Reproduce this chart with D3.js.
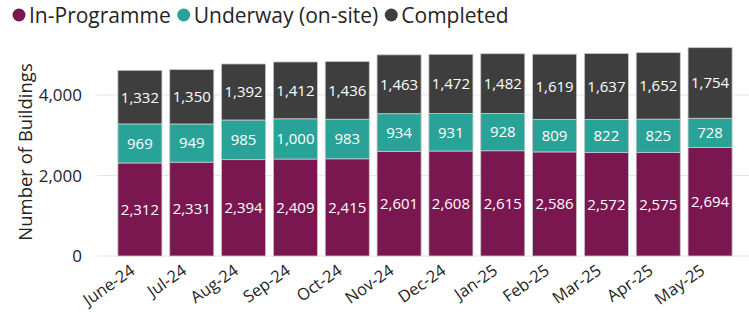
<!DOCTYPE html>
<html><head><meta charset="utf-8">
<script src="https://cdn.jsdelivr.net/npm/d3@7"></script>
<style>body{margin:0;background:#fff;} svg{display:block;font-family:"Open Sans","Noto Sans",sans-serif;}</style>
</head><body>
<svg id="c" width="749" height="312"></svg>
<script>
const categories = ["June-24","Jul-24","Aug-24","Sep-24","Oct-24","Nov-24","Dec-24","Jan-25","Feb-25","Mar-25","Apr-25","May-25"];
const inProgramme = [2312,2331,2394,2409,2415,2601,2608,2615,2586,2572,2575,2694];
const underway = [969,949,985,1000,983,934,931,928,809,822,825,728];
const completed = [1332,1350,1392,1412,1436,1463,1472,1482,1619,1637,1652,1754];
const seriesNames = ["In-Programme","Underway (on-site)","Completed"];
const colors = ["#7b1750","#29a398","#3e3e3e"];
const yTicks = [0,2000,4000];

const svg = d3.select("#c");
const x = d3.scaleBand().domain(categories).range([114, 736]).paddingInner(0.15).paddingOuter(0.075);
const y = d3.scaleLinear().domain([0, 4000]).range([256, 95]);

svg.append("g").selectAll("line").data(yTicks).join("line")
  .attr("x1", 97).attr("x2", 749)
  .attr("y1", d => y(d)).attr("y2", d => y(d))
  .attr("stroke", "#e9e4e0").attr("stroke-width", 1);

svg.append("g").selectAll("text").data(yTicks).join("text")
  .attr("x", 82).attr("y", d => y(d)).attr("dy", "0.36em")
  .attr("text-anchor", "end").attr("font-size", 17).attr("fill", "#252423")
  .text(d => d3.format(",")(d));

svg.append("text").attr("transform", "translate(32,152) rotate(-90)")
  .attr("text-anchor", "middle").attr("font-size", 18.5).attr("fill", "#252423")
  .text("Number of Buildings");

const data = categories.map((c, i) => ({cat: c, v: [inProgramme[i], underway[i], completed[i]]}));
const stacked = data.map(d => {
  let acc = 0;
  return d.v.map((v, k) => { const s = {cat: d.cat, k, v, y0: acc, y1: acc + v}; acc += v; return s; });
}).flat();

svg.append("g").selectAll("rect").data(stacked).join("rect")
  .attr("x", d => x(d.cat)).attr("width", x.bandwidth())
  .attr("y", d => y(d.y1)).attr("height", d => y(d.y0) - y(d.y1))
  .attr("fill", d => colors[d.k]).attr("stroke", "#c8c8c8").attr("stroke-width", 0.8);

svg.append("g").selectAll("text").data(stacked).join("text")
  .attr("x", d => x(d.cat) + x.bandwidth() / 2)
  .attr("y", d => (y(d.y0) + y(d.y1)) / 2).attr("dy", "0.36em")
  .attr("text-anchor", "middle").attr("font-size", 15).attr("fill", "#fff")
  .text(d => d3.format(",")(d.v));

svg.append("g").selectAll("text").data(categories).join("text")
  .attr("transform", c => `translate(${x(c) + x.bandwidth() / 2 - 4},${273}) rotate(-35)`)
  .attr("text-anchor", "end").attr("font-size", 16.5).attr("fill", "#252423")
  .text(c => c);

const lg = svg.append("g");
let lx = 12;
seriesNames.forEach((n, i) => {
  lg.append("circle").attr("cx", lx + 7).attr("cy", 15).attr("r", 6.5).attr("fill", colors[i]);
  const t = lg.append("text").attr("x", lx + 17).attr("y", 15).attr("dy", "0.36em")
    .attr("font-size", 21).attr("fill", "#252423").text(n);
  lx += 17 + t.node().getComputedTextLength() + 6;
});
</script>
</body></html>
